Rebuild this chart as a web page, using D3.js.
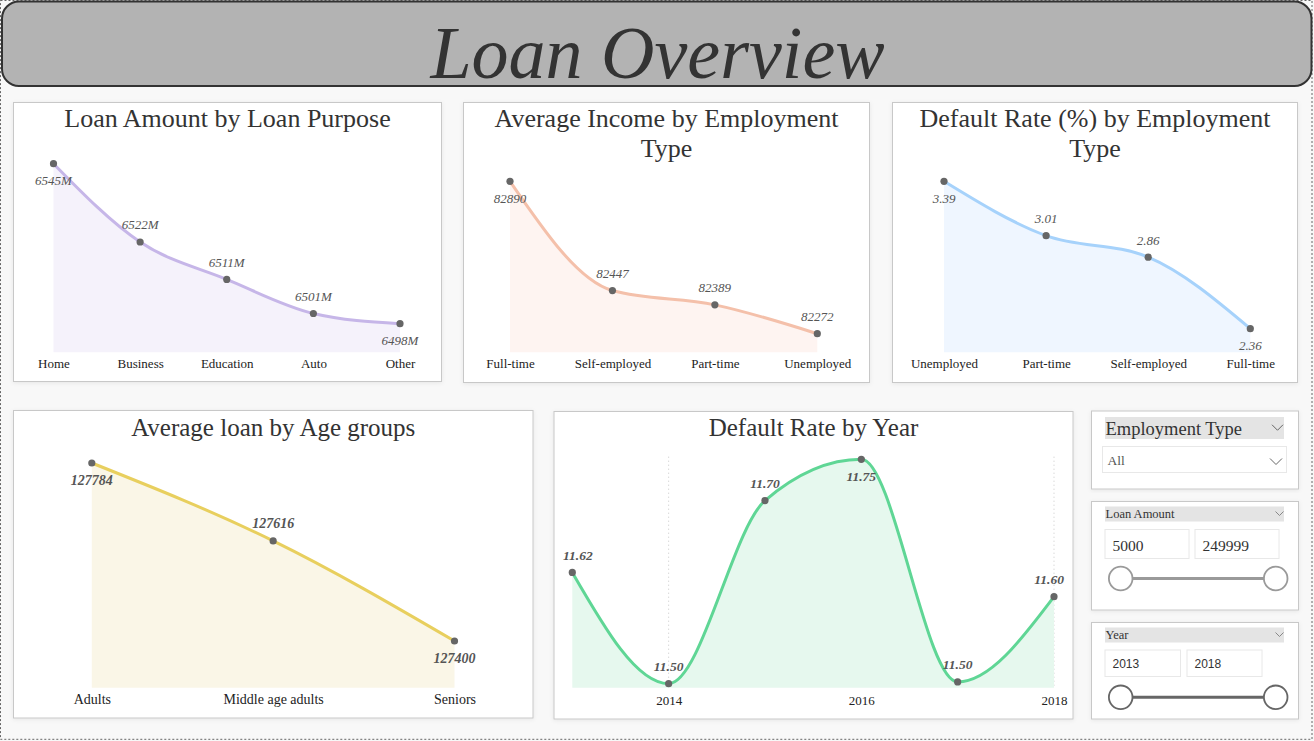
<!DOCTYPE html>
<html>
<head>
<meta charset="utf-8">
<script src="https://cdn.jsdelivr.net/npm/d3@7"></script>
<style>
  html, body { margin: 0; padding: 0; background: #f7f7f7; }
  svg { display: block; }
</style>
</head>
<body>
<svg id="chart" width="1314" height="741"></svg>
<script>
// ---------------- DATA ----------------
const loanPurposeCats = ["Home", "Business", "Education", "Auto", "Other"];
const loanPurposeValues = [6545, 6522, 6511, 6501, 6498];          // millions
const loanPurposeLabelSide = ["below", "above", "above", "above", "below"];

const incomeCats = ["Full-time", "Self-employed", "Part-time", "Unemployed"];
const incomeValues = [82890, 82447, 82389, 82272];
const incomeLabelSide = ["below", "above", "above", "above"];

const defaultEmpCats = ["Unemployed", "Part-time", "Self-employed", "Full-time"];
const defaultEmpValues = [3.39, 3.01, 2.86, 2.36];
const defaultEmpLabelSide = ["below", "above", "above", "below"];

const ageCats = ["Adults", "Middle age adults", "Seniors"];
const ageValues = [127784, 127616, 127400];
const ageLabelSide = ["below", "above", "below"];

const years = [2013, 2014, 2015, 2016, 2017, 2018];
const yearRates = [11.623, 11.499, 11.703, 11.749, 11.501, 11.596];
const yearLabelSide = ["above", "above", "above", "below", "above", "above"];
const yearTicks = [2014, 2016, 2018];

const slicerEmployment = "All";
const slicerLoanRange = ["5000", "249999"];
const slicerYearRange = ["2013", "2018"];

// ---------------- SETUP ----------------
const svg = d3.select("#chart");
const SERIF = "'Liberation Serif', 'Times New Roman', serif";
const SANS = "'Liberation Sans', Arial, sans-serif";

const defs = svg.append("defs");
const f = defs.append("filter").attr("id", "shadow").attr("x", "-5%").attr("y", "-5%").attr("width", "110%").attr("height", "110%");
f.append("feDropShadow").attr("dx", 0).attr("dy", 1).attr("stdDeviation", 2).attr("flood-color", "#000").attr("flood-opacity", 0.07);

// page dotted border
svg.append("rect").attr("x", 0.5).attr("y", 0.5).attr("width", 1311.5).attr("height", 738.8)
  .attr("fill", "#f8f8f8").attr("stroke", "#666").attr("stroke-dasharray", "2,2").attr("stroke-width", 1);

// Title bar
svg.append("rect").attr("x", 2).attr("y", 1.5).attr("width", 1309.5).attr("height", 84.5).attr("rx", 17)
  .attr("fill", "#b3b3b3").attr("stroke", "#333").attr("stroke-width", 2);
svg.append("text").attr("x", 657.5).attr("y", 78).attr("text-anchor", "middle")
  .attr("font-family", SERIF).attr("font-style", "italic").attr("font-size", 74).attr("fill", "#333")
  .text("Loan Overview");

function panel(b) {
  svg.append("rect").attr("x", b.x).attr("y", b.y).attr("width", b.w).attr("height", b.h)
    .attr("fill", "#fff").attr("stroke", "#c8c8c8").attr("stroke-width", 1).attr("filter", "url(#shadow)");
}

function lineChart(cfg) {
  panel(cfg.box);
  const g = svg.append("g");
  cfg.title.forEach((t, i) => {
    g.append("text").attr("x", cfg.box.x + cfg.box.w / 2).attr("y", cfg.titleY + i * 30)
      .attr("text-anchor", "middle").attr("font-family", SERIF).attr("font-size", cfg.titleSize)
      .attr("fill", "#333").text(t);
  });
  const data = cfg.cats.map((c, i) => ({ c, v: cfg.values[i], side: cfg.sides[i] }));
  const x = cfg.numericX
    ? d3.scaleLinear().domain(d3.extent(cfg.cats)).range(cfg.xRange)
    : d3.scalePoint().domain(cfg.cats).range(cfg.xRange);
  const y = d3.scaleLinear().domain([d3.min(cfg.values), d3.max(cfg.values)]).range([cfg.yBot, cfg.yTop]);

  if (cfg.grid) {
    g.selectAll(".grid").data(cfg.grid).join("line")
      .attr("x1", d => x(d)).attr("x2", d => x(d))
      .attr("y1", cfg.gridTop).attr("y2", cfg.base)
      .attr("stroke", "#c8c8c8").attr("stroke-width", 1).attr("stroke-dasharray", "1,3");
  }

  const curve = d3.curveMonotoneX;
  const area = d3.area().x(d => x(d.c)).y0(cfg.base).y1(d => y(d.v)).curve(curve);
  const line = d3.line().x(d => x(d.c)).y(d => y(d.v)).curve(curve);
  g.append("path").datum(data).attr("d", area).attr("fill", cfg.fill);
  g.append("path").datum(data).attr("d", line).attr("fill", "none")
    .attr("stroke", cfg.color).attr("stroke-width", 3).attr("stroke-linecap", "round");

  g.selectAll(".pt").data(data).join("circle")
    .attr("cx", d => x(d.c)).attr("cy", d => y(d.v)).attr("r", 3.6).attr("fill", "#666");

  const lbl = g.selectAll(".lbl").data(data).join("text")
    .attr("font-family", SERIF).attr("font-style", "italic").attr("font-size", cfg.labelSize)
    .attr("font-weight", cfg.labelWeight).attr("fill", "#555").attr("text-anchor", "middle")
    .attr("y", d => y(d.v) + (d.side === "above" ? -12.5 : 21.5))
    .text(d => cfg.fmt(d.v));
  lbl.each(function (d) {
    const w = this.getComputedTextLength();
    const lo = cfg.box.x + 9 + w / 2, hi = cfg.box.x + cfg.box.w - 9 - w / 2;
    d3.select(this).attr("x", Math.max(lo, Math.min(hi, x(d.c))));
  });

  const axis = d3.axisBottom(x).tickSize(0).tickPadding(0);
  if (cfg.numericX) axis.tickValues(cfg.grid).tickFormat(d3.format("d"));
  const ax = g.append("g").attr("transform", `translate(0,${cfg.axisY})`).call(axis);
  ax.select(".domain").remove();
  ax.selectAll("text").attr("y", 0).attr("dy", 0)
    .attr("font-family", SERIF).attr("font-size", cfg.axisSize).attr("fill", "#222");
}

lineChart({
  box: { x: 13.5, y: 102.5, w: 428, h: 279 },
  title: ["Loan Amount by Loan Purpose"], titleY: 126.7, titleSize: 26,
  cats: loanPurposeCats, values: loanPurposeValues, sides: loanPurposeLabelSide,
  xRange: [53.5, 400], yTop: 163.7, yBot: 323.7, base: 352.3, axisY: 368,
  color: "#c6b6e8", fill: "#f5f2fb", labelSize: 13, labelWeight: "normal", axisSize: 13,
  fmt: v => v + "M"
});

lineChart({
  box: { x: 463.5, y: 102.5, w: 406, h: 280 },
  title: ["Average Income by Employment", "Type"], titleY: 126.7, titleSize: 26,
  cats: incomeCats, values: incomeValues, sides: incomeLabelSide,
  xRange: [510, 817.3], yTop: 181.3, yBot: 333.7, base: 352.3, axisY: 368,
  color: "#f4c0aa", fill: "#fef4f1", labelSize: 13, labelWeight: "normal", axisSize: 13,
  fmt: v => String(v)
});

lineChart({
  box: { x: 892.5, y: 102.5, w: 405, h: 280 },
  title: ["Default Rate (%) by Employment", "Type"], titleY: 126.7, titleSize: 26,
  cats: defaultEmpCats, values: defaultEmpValues, sides: defaultEmpLabelSide,
  xRange: [944, 1250.3], yTop: 181.3, yBot: 328.7, base: 352.3, axisY: 368,
  color: "#a6d2fb", fill: "#eff6ff", labelSize: 13, labelWeight: "normal", axisSize: 13,
  fmt: v => v.toFixed(2)
});

lineChart({
  box: { x: 13.5, y: 410.5, w: 519.5, h: 307.5 },
  title: ["Average loan by Age groups"], titleY: 436, titleSize: 25,
  cats: ageCats, values: ageValues, sides: ageLabelSide,
  xRange: [91.8, 454.5], yTop: 463, yBot: 641, base: 687.7, axisY: 704.3,
  color: "#e8cf5e", fill: "#faf6e7", labelSize: 14, labelWeight: "bold", axisSize: 14,
  fmt: v => String(v)
});

lineChart({
  box: { x: 554, y: 411.5, w: 519, h: 307.5 },
  title: ["Default Rate by Year"], titleY: 435.7, titleSize: 25,
  cats: years, values: yearRates, sides: yearLabelSide, numericX: true,
  grid: yearTicks, gridTop: 456.7,
  xRange: [572.3, 1054], yTop: 459.3, yBot: 683.7, base: 687.7, axisY: 705,
  color: "#5fd695", fill: "#e6f8ee", labelSize: 13.5, labelWeight: "bold", axisSize: 13,
  fmt: v => v.toFixed(2)
});

// ---------------- SLICERS ----------------
function chevron(cx, cy, w, h, color) {
  svg.append("polyline")
    .attr("points", `${cx - w / 2},${cy - h / 2} ${cx},${cy + h / 2} ${cx + w / 2},${cy - h / 2}`)
    .attr("fill", "none").attr("stroke", color).attr("stroke-width", 1);
}

panel({ x: 1091.5, y: 411, w: 207, h: 78 });
svg.append("rect").attr("x", 1105).attr("y", 417).attr("width", 179).attr("height", 22).attr("fill", "#e4e4e4");
svg.append("text").attr("x", 1105.5).attr("y", 434.5).attr("font-family", SERIF).attr("font-size", 18.5)
  .attr("fill", "#333").text("Employment Type");
chevron(1277.5, 427.5, 11, 5.5, "#666");
svg.append("rect").attr("x", 1102.5).attr("y", 446.5).attr("width", 184).attr("height", 26)
  .attr("fill", "#fff").attr("stroke", "#e8e8e8");
svg.append("text").attr("x", 1107.5).attr("y", 465).attr("font-family", SERIF).attr("font-size", 13.5)
  .attr("fill", "#555").text(slicerEmployment);
chevron(1276, 461.5, 12, 6, "#666");

function rangeSlicer(top, h, label, vals, valFont, valSize, trackColor, o) {
  panel({ x: 1091.5, y: top, w: 207, h: h });
  svg.append("rect").attr("x", 1105).attr("y", top + 5).attr("width", 179).attr("height", 15).attr("fill", "#e4e4e4");
  svg.append("text").attr("x", 1105.5).attr("y", top + 16.3).attr("font-family", SERIF).attr("font-size", 12.5)
    .attr("fill", "#333").text(label);
  chevron(1279.5, top + 12, 8, 4, "#888");
  const bx = [1105, o.x];
  const bw = [o.w1, o.w];
  bx.forEach((x0, i) => {
    svg.append("rect").attr("x", x0).attr("y", top + o.by).attr("width", bw[i]).attr("height", o.bh)
      .attr("fill", "#fff").attr("stroke", "#e8e8e8");
    svg.append("text").attr("x", x0 + 7.5).attr("y", top + o.ty).attr("font-family", valFont)
      .attr("font-size", valSize).attr("fill", "#333").text(vals[i]);
  });
  const sy = top + o.sy;
  svg.append("line").attr("x1", 1120.7).attr("x2", 1275.7).attr("y1", sy).attr("y2", sy)
    .attr("stroke", trackColor).attr("stroke-width", 3);
  [1120.7, 1275.7].forEach(cx => {
    svg.append("circle").attr("cx", cx).attr("cy", sy).attr("r", 11.8)
      .attr("fill", "#fff").attr("stroke", trackColor).attr("stroke-width", 1.8);
  });
}

rangeSlicer(501.5, 108.5, "Loan Amount", slicerLoanRange, SERIF, 15.5, "#9a9a9a",
  { x: 1195, w: 84, w1: 84, by: 28, bh: 29, ty: 49, sy: 77 });
rangeSlicer(622.5, 96.5, "Year", slicerYearRange, SANS, 12, "#666",
  { x: 1187, w: 75, w1: 75.5, by: 27.5, bh: 26.5, ty: 45, sy: 74.8 });
</script>
</body>
</html>
